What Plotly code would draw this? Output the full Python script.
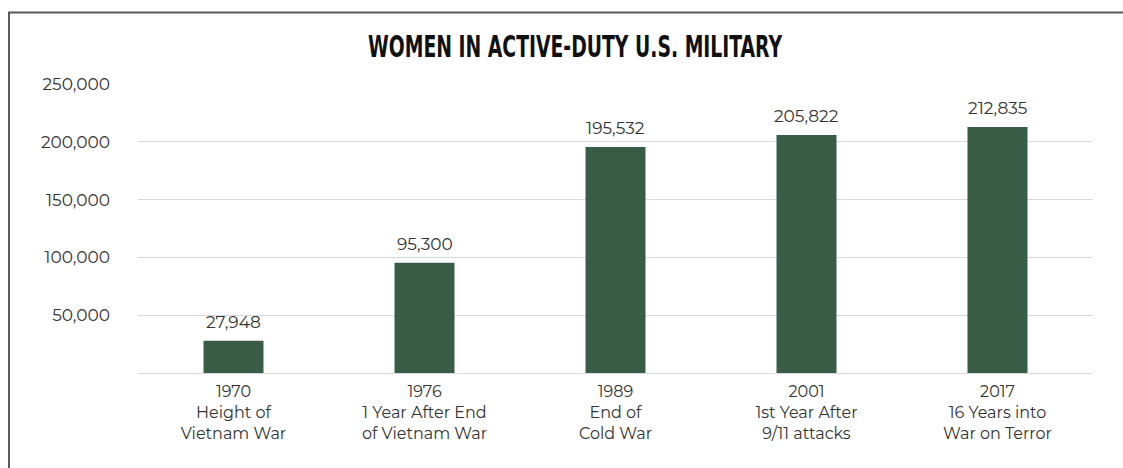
import plotly.graph_objects as go

years = ["1970", "1976", "1989", "2001", "2017"]
captions = ["Height of<br>Vietnam War", "1 Year After End<br>of Vietnam War",
            "End of<br>Cold War", "1st Year After<br>9/11 attacks",
            "16 Years into<br>War on Terror"]
women = [27948, 95300, 195532, 205822, 212835]
y_ticks = [50000, 100000, 150000, 200000, 250000]
y_tick_text = ["50,000", "100,000", "150,000", "200,000", "250,000"]

W, H = 1123, 468
L, R, T, B = 138, 30, 84, 95
pw, ph = W - L - R, H - T - B

cats = [f"{y}<br>{c}" for y, c in zip(years, captions)]
TEXT_FONT = "Montserrat, Open Sans, sans-serif"

fig = go.Figure(go.Bar(
    x=cats, y=women,
    marker=dict(color="#385c46", line=dict(width=0)),
    hoverinfo="skip",
))

for c, v in zip(cats, women):
    fig.add_annotation(x=c, y=v, text=f"{v:,}", showarrow=False,
                       yanchor="bottom", yshift=7,
                       font=dict(family=TEXT_FONT, size=17, color="#333333"))

def px_x(x):
    return (x - L) / pw

def px_y(y):
    return (H - B - y) / ph

fig.update_layout(
    width=W, height=H,
    margin=dict(l=L, r=R, t=T, b=B),
    paper_bgcolor="white", plot_bgcolor="white",
    bargap=0.686,
    showlegend=False,
    title=dict(text="WOMEN IN ACTIVE-DUTY U.S. MILITARY",
               x=(575 - L) / pw, xref="paper", xanchor="center",
               y=1 - 46 / H, yref="container", yanchor="middle",
               font=dict(family="DejaVu Sans Condensed, DejaVu Sans, sans-serif",
                         size=31, color="#111111", weight="bold")),
    font=dict(family=TEXT_FONT, size=16, color="#333333"),
    xaxis=dict(showgrid=False, showline=False, ticks="", ticklabelstandoff=7,
               tickfont=dict(family=TEXT_FONT, size=16, color="#333333")),
    yaxis=dict(range=[0, 250000], tickvals=y_ticks, ticktext=y_tick_text,
               showgrid=True, gridcolor="#d9d9d9", gridwidth=1,
               zeroline=True, zerolinecolor="#d9d9d9", zerolinewidth=1,
               showline=False, ticks="", ticklabelstandoff=27,
               tickfont=dict(family=TEXT_FONT, size=17, color="#333333")),
    shapes=[
        dict(type="line", xref="paper", yref="paper",
             x0=px_x(9), x1=px_x(9), y0=px_y(12.5), y1=px_y(H + 2),
             line=dict(color="#5a5a5a", width=2)),
        dict(type="line", xref="paper", yref="paper",
             x0=px_x(8), x1=px_x(W + 2), y0=px_y(12.5), y1=px_y(12.5),
             line=dict(color="#5a5a5a", width=2)),
    ],
)

post = """
document.body.style.margin = '0';
var gdiv = document.getElementById('{plot_id}');
function fixTitle() {
  var t = gdiv ? gdiv.querySelector('.gtitle') : null;
  if (t) { t.setAttribute('textLength', '414'); t.setAttribute('lengthAdjust', 'spacingAndGlyphs'); }
}
fixTitle();
setTimeout(fixTitle, 50);
if (gdiv && gdiv.on) { gdiv.on('plotly_afterplot', fixTitle); }
"""

fig.write_html("out.html", post_script=post,
               config={"displayModeBar": False, "staticPlot": True})
